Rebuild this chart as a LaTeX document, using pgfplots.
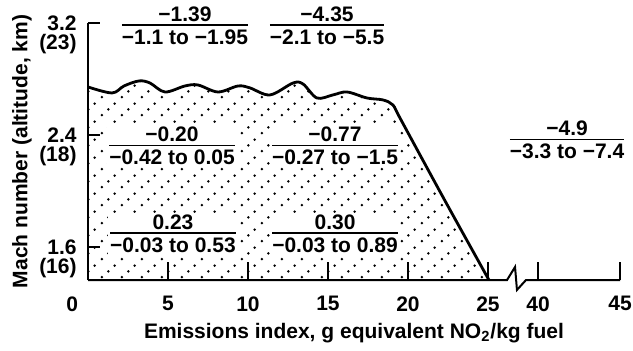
\documentclass[border=0pt]{standalone}
\usepackage{pgfplots}
\pgfplotsset{compat=1.18}
\usepackage{fontspec}
\setmainfont{Liberation Sans}
\usetikzlibrary{patterns}
\pgfdeclarepatternformonly{slantdots}{\pgfqpoint{0pt}{0pt}}{\pgfqpoint{10pt}{9pt}}{\pgfqpoint{10pt}{9pt}}{%
 \pgfpathcircle{\pgfqpoint{1pt}{1pt}}{0.72pt}%
 \pgfpathcircle{\pgfqpoint{4.333pt}{4pt}}{0.72pt}%
 \pgfpathcircle{\pgfqpoint{7.667pt}{7pt}}{0.72pt}%
 \pgfusepath{fill}}
\newcommand\frc[2]{{\renewcommand\arraystretch{0}\setlength\arrayrulewidth{0.9pt}%
 \begin{tabular}{@{}c@{}}\rule[-1.5pt]{0pt}{8pt}#1\\\hline\rule{0pt}{9.3pt}#2\end{tabular}}}
\begin{document}
\fontsize{10.5}{12}\selectfont\bfseries
\begin{tikzpicture}
\begin{axis}[
 x=8pt, y=70pt,
 xmin=0, xmax=33.25, ymin=1.364, ymax=3.2,
 axis y line=left, axis x line=bottom,
 axis line style={line width=1pt,-},
 x axis line style={draw=none},
 tick align=inside,
 xtick={0,5,10,15,20,25,28.125,33.25},
 xticklabels={\llap{0\kern5pt},5,10,15,20,25,40,45},
 ytick={1.6,2.4,3.2},
 yticklabels={1.6\\(16),2.4\\(18),3.2\\(23)},
 major tick length=6pt,
 xtick style={/pgfplots/major tick length=9pt},
 every tick/.style={black,line width=1pt},
 xticklabel style={inner sep=0pt, anchor=north, yshift=-8pt},
 yticklabel style={align=right, inner sep=0pt, anchor=north east, xshift=-5.5pt, yshift=3.75pt, font=\fontsize{10.5}{9.5}\selectfont\bfseries},
 xlabel={Emissions index, g equivalent NO\textsubscript{2}/kg fuel},
 ylabel={Mach number (altitude, km)},
 xlabel style={at={(axis description cs:0.5,0)}, anchor=center, yshift=-26.5pt},
 ylabel style={at={(axis description cs:-0.124,0.5)}, anchor=center},
 clip=false,
]
\addplot[draw=none, pattern=slantdots, smooth, tension=0.55] coordinates {
 (0,2.743) (1.5,2.700) (2.25,2.75) (3.19,2.786) (3.875,2.771) (4.81,2.707)
 (6.06,2.75) (6.875,2.757) (8.125,2.707) (9.375,2.75) (10.125,2.736)
 (11.375,2.686) (12.81,2.771) (13.44,2.764) (14.31,2.664) (15.31,2.686)
 (16.19,2.707) (17.44,2.664) (18.44,2.65) (19.06,2.614) (19.5,2.521)
 (22.25,1.943) (25.06,1.364)} \closedcycle;
\addplot[line width=1.4pt, smooth, tension=0.55] coordinates {
 (0,2.743) (1.5,2.700) (2.25,2.75) (3.19,2.786) (3.875,2.771) (4.81,2.707)
 (6.06,2.75) (6.875,2.757) (8.125,2.707) (9.375,2.75) (10.125,2.736)
 (11.375,2.686) (12.81,2.771) (13.44,2.764) (14.31,2.664) (15.31,2.686)
 (16.19,2.707) (17.44,2.664) (18.44,2.65) (19.06,2.614) (19.5,2.521)
 (22.25,1.943) (25.06,1.364)};
\addplot[line width=1pt] coordinates {(0,1.364) (26.19,1.364) (26.69,1.457) (26.81,1.293) (27.375,1.364) (33.25,1.364)};
\node[fill=white, inner sep=1pt] at (axis cs:6.06,3.179) {\frc{−1.39}{−1.1 to −1.95}};
\node[fill=white, inner sep=1pt] at (axis cs:14.94,3.179) {\frc{−4.35}{−2.1 to −5.5}};
\node[fill=white, inner sep=1pt] at (axis cs:5.25,2.321) {\frc{−0.20}{−0.42 to 0.05}};
\node[fill=white, inner sep=1pt] at (axis cs:15.44,2.321) {\frc{−0.77}{−0.27 to −1.5}};
\node[fill=white, inner sep=1pt] at (axis cs:29.94,2.364) {\frc{−4.9}{−3.3 to −7.4}};
\node[fill=white, inner sep=1pt] at (axis cs:5.31,1.693) {\frc{0.23}{−0.03 to 0.53}};
\node[fill=white, inner sep=1pt] at (axis cs:15.44,1.693) {\frc{0.30}{−0.03 to 0.89}};
\end{axis}
\pgfresetboundingbox
\useasboundingbox (-44pt,-35pt) rectangle (272.5pt,140pt);
\end{tikzpicture}
\end{document}
